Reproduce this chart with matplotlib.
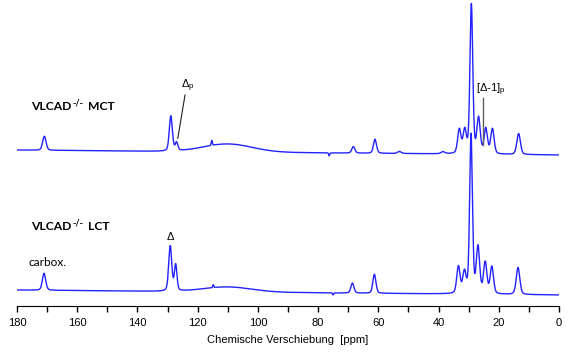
import numpy as np
import matplotlib.pyplot as plt

# peak tables: position (ppm), height and FWHM (ppm); heights in plot units
mct_ppm = [170.9, 128.9, 127.0, 115.3, 76.3, 68.3, 61.1, 53.0, 38.5,
           33.1, 31.3, 29.1, 26.7, 24.3, 22.1, 13.4]
mct_height = [14, 35, 8, 5, -3, 6.5, 14, 2, 2, 24, 23, 149, 35, 25, 25, 21]
mct_fwhm = [1.3, 1.2, 1.0, 0.4, 0.4, 1.2, 1.2, 1.5, 1.5,
            1.3, 1.3, 1.1, 1.3, 1.3, 1.3, 1.4]
mct_base = [156, 151]        # baseline at 180 ppm and at 0 ppm
mct_hump = [110, 8, 8]       # broad hump: centre, height, sigma

lct_ppm = [171.0, 129.1, 127.3, 114.8, 75.0, 68.6, 61.3,
           33.4, 31.4, 29.2, 26.9, 24.5, 22.3, 13.6]
lct_height = [17, 45, 26, 3, -2, 10, 19, 27, 21, 159, 46, 31, 27, 27]
lct_fwhm = [1.3, 1.2, 1.0, 0.4, 0.4, 1.2, 1.2,
            1.3, 1.3, 1.1, 1.3, 1.3, 1.3, 1.4]
lct_base = [16, 11]
lct_hump = [110, 5, 8]

ticks = [180, 160, 140, 120, 100, 80, 60, 40, 20, 0]

ppm = np.linspace(0, 180, 6000)


def spectrum(pos, h, fw, base, hump, eta=0.3):
    y = base[1] + (base[0] - base[1]) * ppm / 180
    y = y + hump[1] * np.exp(-(ppm - hump[0]) ** 2 / (2 * hump[2] ** 2))
    for p, a, f in zip(pos, h, fw):
        d = ppm - p
        g = np.exp(-4 * np.log(2) * d ** 2 / f ** 2)
        l = 1 / (1 + (2 * d / f) ** 2)
        y = y + a * ((1 - eta) * g + eta * l)
    return y


fig = plt.figure(figsize=(5.7, 3.55), dpi=100)
ax = fig.add_axes([17 / 570, 49 / 355, 542 / 570, 306 / 355])

blue = '#2222ff'
ax.plot(ppm, spectrum(mct_ppm, mct_height, mct_fwhm, mct_base, mct_hump), color=blue, lw=1)
ax.plot(ppm, spectrum(lct_ppm, lct_height, lct_fwhm, lct_base, lct_hump), color=blue, lw=1)

ax.set_xlim(180, 0)
ax.set_ylim(0, 306)
ax.set_xticks(ticks)
ax.set_xticks(range(0, 181, 10), minor=True)
ax.tick_params(axis='x', which='both', direction='out', length=4, width=1,
               labelsize=8, pad=5)
for t in ax.get_xticklabels():
    t.set_family('Liberation Sans')
ax.set_yticks([])
for s in ['top', 'left', 'right']:
    ax.spines[s].set_visible(False)
ax.set_xlabel('Chemische Verschiebung  [ppm]', fontsize=8, family='Liberation Sans',
              labelpad=5)


def sample_label(y, name):
    t1 = ax.text(175.2, y, 'VLCAD', family='Lato', fontsize=8.7, fontweight='bold',
                 va='center', ha='left')
    t2 = ax.annotate('-/-', xy=(1, 1), xycoords=t1, xytext=(0.3, 2.5),
                     textcoords='offset points', family='Lato', fontsize=6.5,
                     fontweight='bold', va='top', ha='left')
    ax.annotate(name, xy=(1, 0), xycoords=(t2, t1), xytext=(3.5, 0),
                textcoords='offset points', family='Lato', fontsize=8.7,
                fontweight='bold', va='bottom', ha='left')


sample_label(199, 'MCT')
sample_label(79, 'LCT')
ax.text(170, 43, 'carbox.', family='Lato', fontsize=8.5, ha='center', va='center')

ax.text(129.2, 69, 'Δ', family='Liberation Sans', fontsize=8, ha='center', va='center')
ax.text(123.3, 220, r'Δ$_\mathregular{p}$', family='Liberation Sans', fontsize=8,
        ha='center', va='center')
ax.plot([126.6, 124.2], [167.7, 211], color='#202020', lw=0.8)
ax.text(22.7, 216, r'[Δ-1]$_\mathregular{p}$', family='Liberation Sans', fontsize=8,
        ha='center', va='center')
ax.plot([25.2, 25.2], [161, 207.7], color='#606060', lw=1)

fig.savefig('out.png', dpi=100)
